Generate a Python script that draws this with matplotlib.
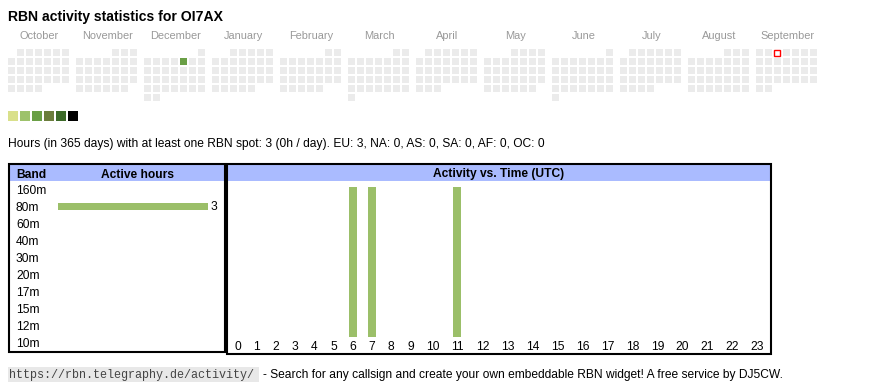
import calendar
from datetime import date

import matplotlib
matplotlib.use('Agg')
import matplotlib.pyplot as plt
import matplotlib.transforms as mtransforms
from matplotlib.patches import Rectangle

# ---- data ----
callsign = 'OI7AX'
months = ['October', 'November', 'December', 'January', 'February', 'March',
          'April', 'May', 'June', 'July', 'August', 'September']
start_year, start_month = 2024, 10
active_days = [date(2024, 12, 6)]
active_levels = [3]
today = date(2025, 9, 3)
level_colors = ['#d9e08b', '#9dc26b', '#6a9f46', '#6b7d3c', '#3c6a28', '#000000']

bands = ['160m', '80m', '60m', '40m', '30m', '20m', '17m', '15m', '12m', '10m']
band_hours = [0, 3, 0, 0, 0, 0, 0, 0, 0, 0]

hours = [str(h) for h in range(24)]
hour_activity = [0, 0, 0, 0, 0, 0, 1, 1, 0, 0, 0, 1,
                 0, 0, 0, 0, 0, 0, 0, 0, 0, 0, 0, 0]

summary = ('Hours (in 365 days) with at least one RBN spot: 3 (0h / day). '
           'EU: 3, NA: 0, AS: 0, SA: 0, AF: 0, OC: 0')
url = 'https://rbn.telegraphy.de/activity/'
footer = '- Search for any callsign and create your own embeddable RBN widget! A free service by DJ5CW.'

W, H = 870, 390
BAR_GREEN = '#9bbf69'
HEAD_BLUE = '#aabbff'
plt.rcParams['font.family'] = ['Liberation Sans', 'DejaVu Sans']


def pt(px):
    return px * 0.72


def px_axes(fig, x0, y0, x1, y1):
    return fig.add_axes([x0 / W, 1 - y1 / H, (x1 - x0) / W, (y1 - y0) / H])


fig = plt.figure(figsize=(W / 100, H / 100), dpi=100)
bg = px_axes(fig, 0, 0, W, H)
bg.set_xlim(0, W)
bg.set_ylim(H, 0)
bg.axis('off')

bg.text(8, 20.5, 'RBN activity statistics for ' + callsign, fontsize=pt(14),
        fontweight='bold', va='baseline')

# calendar: one block per month, weeks as rows, Monday first
levels = dict(zip(active_days, active_levels))
for j, name in enumerate(months):
    y = start_year + (start_month - 1 + j) // 12
    m = (start_month - 1 + j) % 12 + 1
    first_wd, ndays = calendar.monthrange(y, m)
    x0 = 8 + 68 * j
    bg.text(x0 + 31.5, 39, name, fontsize=pt(11), color='#999999',
            ha='center', va='baseline')
    for d in range(1, ndays + 1):
        k = first_wd + d - 1
        cx = x0 + 9 * (k % 7)
        cy = 49 + 9 * (k // 7)
        day = date(y, m, d)
        if day == today:
            bg.add_patch(Rectangle((cx + 0.5, cy + 0.5), 6, 6, facecolor='white',
                                   edgecolor='red', lw=1))
        elif day in levels:
            bg.add_patch(Rectangle((cx, cy), 7, 7, facecolor=level_colors[levels[day] - 1],
                                   edgecolor='none'))
        else:
            bg.add_patch(Rectangle((cx, cy), 7, 7, facecolor='#ebebeb', edgecolor='none'))

for i, c in enumerate(level_colors):
    bg.add_patch(Rectangle((8 + 12 * i, 111), 10, 10, facecolor=c, edgecolor='none'))

bg.text(8, 146.5, summary, fontsize=pt(12), va='baseline')

# table frames
bg.add_patch(Rectangle((10, 165), 214, 16, facecolor=HEAD_BLUE, edgecolor='none'))
bg.add_patch(Rectangle((228, 165), 542, 16, facecolor=HEAD_BLUE, edgecolor='none'))
bg.add_patch(Rectangle((9, 164), 216, 188, fill=False, edgecolor='black', lw=1.5))
bg.add_patch(Rectangle((227, 164), 544, 190, fill=False, edgecolor='black', lw=1.5))
bg.text(16, 177.5, 'Band', fontsize=pt(12), fontweight='bold', va='baseline')
bg.text(138, 177.5, 'Active hours', fontsize=pt(12), fontweight='bold',
        va='baseline', ha='center')
bg.text(499, 177.5, 'Activity vs. Time (UTC)', fontsize=pt(12), fontweight='bold',
        va='baseline', ha='center')

# band bars
axb = px_axes(fig, 58, 181, 208, 351)
axb.barh(range(len(bands)), band_hours, height=7 / 17, color=BAR_GREEN)
axb.set_xlim(0, max(band_hours))
axb.set_ylim(len(bands) - 0.5, -0.5)
axb.axis('off')
tb = mtransforms.blended_transform_factory(axb.transAxes, axb.transData)
for i, b in enumerate(bands):
    axb.text(-42 / 150, i + 4.3 / 17, b, transform=tb, fontsize=pt(12),
             va='baseline', ha='left')
    if band_hours[i] > 0:
        axb.annotate(str(band_hours[i]), (band_hours[i], i), xytext=(3, 0),
                     textcoords='offset pixels', fontsize=pt(12), va='center',
                     annotation_clip=False)

# hours chart, columns sized like an auto html table
widths = [len(h) + 2.31 for h in hours]
edges = [sum(widths[:i]) for i in range(len(widths) + 1)]
centers = [(edges[i] + edges[i + 1]) / 2 for i in range(len(hours))]
total = edges[-1]
axh = px_axes(fig, 228, 187, 770, 337)
axh.bar(centers, hour_activity, width=8 / 542 * total, color=BAR_GREEN)
axh.set_xlim(0, total)
axh.set_ylim(0, max(hour_activity))
axh.set_xticks(centers, hours, fontsize=pt(12))
axh.set_yticks([])
axh.tick_params(axis='x', length=0, pad=pt(4))
for s in axh.spines.values():
    s.set_visible(False)
axh.patch.set_visible(False)

# footer
bg.add_patch(Rectangle((8, 367), 251, 15, facecolor='#e8e8e8', edgecolor='none'))
bg.text(9, 378, url, family=['Liberation Mono', 'DejaVu Sans Mono'], fontsize=pt(11.8),
        color='#444444', va='baseline')
bg.text(263, 378, footer, fontsize=pt(12), va='baseline')

fig.savefig('out.png', dpi=100)
